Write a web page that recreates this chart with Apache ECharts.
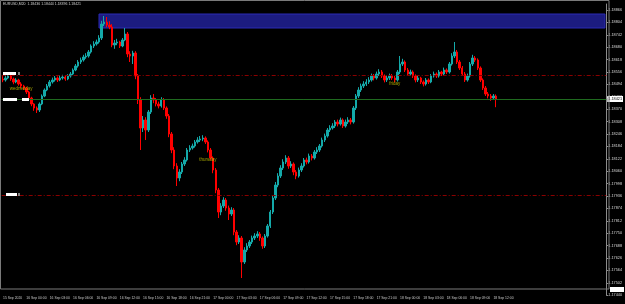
<!DOCTYPE html>
<html><head><meta charset="utf-8">
<script src="https://cdn.jsdelivr.net/npm/echarts@6/dist/echarts.min.js"></script>
<style>html,body{margin:0;padding:0;background:#000;}#c{width:625px;height:304px;}</style>
</head><body><div id="c"></div>
<script>
// Prices are in points (price x 100000), EURUSD M20
const tickLabels = ["15 Sep 2020","16 Sep 00:00","16 Sep 03:00","16 Sep 06:00","16 Sep 09:00","16 Sep 12:00","16 Sep 15:00","16 Sep 18:00","16 Sep 21:00","17 Sep 00:00","17 Sep 03:00","17 Sep 06:00","17 Sep 09:00","17 Sep 12:00","17 Sep 15:00","17 Sep 18:00","17 Sep 21:00","18 Sep 00:00","18 Sep 03:00","18 Sep 06:00","18 Sep 09:00","18 Sep 12:00"];
const barsPerLabel = 9;
const totalBars = 233;

const opens = [118520,118516,118526,118536,118521,118506,118516,118496,118486,118476,
118456,118426,118396,118376,118366,118396,118436,118466,118486,118506,
118516,118526,118516,118526,118531,118521,118536,118546,118566,118586,
118606,118616,118631,118636,118656,118686,118696,118706,118726,118796,
118806,118791,118781,118691,118701,118706,118686,118716,118746,118646,
118636,118651,118536,118416,118276,118316,118266,118356,118426,118416,
118396,118386,118416,118376,118336,118246,118166,118086,118026,118056,
118096,118116,118166,118176,118186,118206,118216,118221,118226,118206,
118166,118126,118066,117966,117856,117886,117916,117876,117846,117866,
117756,117706,117726,117606,117666,117686,117706,117726,117736,117746,
117726,117686,117736,117786,117856,117926,117991,118036,118076,118106,
118126,118086,118096,118056,118036,118066,118086,118116,118106,118136,
118126,118156,118166,118186,118216,118236,118266,118276,118286,118306,
118296,118316,118286,118306,118316,118306,118376,118436,118466,118486,
118496,118506,118516,118536,118526,118546,118556,118536,118516,118526,
118536,118526,118516,118556,118596,118606,118566,118546,118556,118536,
118516,118526,118506,118496,118516,118506,118536,118546,118536,118556,
118546,118566,118556,118596,118636,118656,118606,118576,118546,118516,
118536,118596,118626,118616,118576,118516,118476,118446,118436,118426,
118436];
const closes = [118516,118526,118536,118521,118506,118516,118496,118486,118476,118456,
118426,118396,118376,118366,118396,118436,118466,118486,118506,118516,
118526,118516,118526,118531,118521,118536,118546,118566,118586,118606,
118616,118631,118636,118656,118686,118696,118706,118726,118796,118806,
118791,118781,118691,118701,118706,118686,118716,118746,118646,118636,
118651,118536,118416,118276,118316,118266,118356,118426,118416,118396,
118386,118416,118376,118336,118246,118166,118086,118026,118056,118096,
118116,118166,118176,118186,118206,118216,118221,118226,118206,118166,
118126,118066,117966,117856,117886,117916,117876,117846,117866,117756,
117706,117726,117606,117666,117686,117706,117726,117736,117746,117726,
117686,117736,117786,117856,117926,117991,118036,118076,118106,118126,
118086,118096,118056,118036,118066,118086,118116,118106,118136,118126,
118156,118166,118186,118216,118236,118266,118276,118286,118306,118296,
118316,118286,118306,118316,118306,118376,118436,118466,118486,118496,
118506,118516,118536,118526,118546,118556,118536,118516,118526,118536,
118526,118516,118556,118596,118606,118566,118546,118556,118536,118516,
118526,118506,118496,118516,118506,118536,118546,118536,118556,118546,
118566,118556,118596,118636,118656,118606,118576,118546,118516,118536,
118596,118626,118616,118576,118516,118476,118446,118436,118426,118436,
118421];
const highs = [118535,118540,118548,118545,118528,118525,118522,118505,118492,118482,
118462,118432,118400,118384,118404,118444,118474,118496,118516,118528,
118536,118534,118540,118542,118538,118545,118556,118574,118596,118616,
118628,118642,118650,118666,118694,118710,118718,118740,118812,118836,
118831,118810,118795,118716,118722,118712,118726,118776,118756,118660,
118662,118660,118546,118430,118336,118330,118366,118440,118446,118426,
118408,118430,118426,118384,118346,118256,118180,118100,118070,118106,
118130,118176,118190,118198,118216,118230,118236,118240,118234,118214,
118176,118134,118076,117976,117900,117930,117926,117888,117880,117876,
117766,117740,117736,117680,117700,117716,117738,117750,117760,117756,
117734,117746,117796,117866,117936,118006,118050,118090,118120,118140,
118136,118110,118104,118066,118078,118100,118126,118128,118148,118146,
118166,118180,118196,118228,118248,118276,118290,118300,118316,118318,
118328,118324,118318,118330,118326,118386,118446,118480,118498,118510,
118520,118530,118548,118546,118558,118570,118566,118544,118538,118548,
118546,118536,118566,118636,118622,118614,118576,118568,118564,118544,
118536,118532,118514,118526,118524,118546,118558,118554,118566,118562,
118578,118574,118606,118650,118706,118666,118616,118586,118556,118548,
118606,118642,118636,118624,118584,118524,118486,118456,118446,118446,
118444];
const lows = [118505,118508,118520,118512,118495,118500,118488,118475,118466,118446,
118415,118385,118362,118351,118356,118390,118430,118460,118478,118498,
118508,118506,118510,118518,118512,118515,118528,118540,118560,118578,
118596,118608,118622,118628,118648,118676,118688,118698,118716,118786,
118780,118770,118680,118672,118690,118676,118680,118710,118630,118606,
118596,118520,118396,118166,118256,118216,118256,118346,118400,118384,
118374,118378,118366,118322,118230,118150,118070,117986,118010,118046,
118086,118108,118156,118168,118178,118198,118206,118210,118196,118154,
118114,118050,117950,117826,117840,117876,117862,117816,117836,117740,
117690,117696,117526,117596,117656,117676,117696,117716,117726,117712,
117672,117676,117728,117776,117846,117916,117980,118026,118066,118096,
118072,118076,118040,118020,118028,118056,118078,118094,118098,118114,
118118,118146,118156,118178,118206,118228,118256,118268,118276,118284,
118288,118276,118278,118296,118294,118298,118366,118426,118456,118476,
118486,118496,118508,118514,118518,118536,118526,118504,118506,118516,
118516,118504,118508,118546,118586,118556,118536,118538,118526,118504,
118506,118496,118484,118488,118496,118500,118528,118526,118528,118536,
118538,118546,118548,118588,118626,118596,118566,118536,118506,118508,
118528,118586,118606,118566,118506,118466,118436,118424,118412,118418,
118380];

const zoneTop = 118846, zoneBottom = 118776, zoneStartBar = 37;
const dashLevels = [118541, 117941];
const lastPrice = 118421;
const dayNotes = [["wednesday", 7, 118471], ["thursday", 79, 118116], ["friday", 151, 118496]];
const axisMin = 117440, axisMax = 118896, axisStep = 62;

const fmt = v => (v / 100000).toFixed(5);
const chart = echarts.init(document.getElementById('c'), null, {renderer: 'canvas'});
const cats = Array.from({length: totalBars}, (_, i) => String(i));
const candleData = opens.map((o, i) => [o, closes[i], lows[i], highs[i]]);

chart.setOption({
  backgroundColor: '#000',
  animation: false,
  grid: {left: 1, right: 16, top: 4, bottom: 8.8},
  xAxis: {
    type: 'category', data: cats, boundaryGap: true,
    axisLine: {show: false}, axisTick: {show: false}, splitLine: {show: false},
    axisLabel: {
      interval: (idx) => idx % barsPerLabel === 0 && idx / barsPerLabel < tickLabels.length,
      formatter: (v, idx) => tickLabels[Math.round(idx / barsPerLabel)] || '',
      align: 'left', color: '#c8c8c8', fontSize: 3.4, margin: 1.8, fontFamily: 'Liberation Sans'
    }
  },
  yAxis: {
    type: 'value', position: 'right', min: axisMin, max: axisMax, interval: axisStep, scale: true,
    axisLine: {show: true, lineStyle: {color: '#8c8c8c', width: 1}},
    axisTick: {show: true, length: 2, lineStyle: {color: '#8c8c8c'}},
    splitLine: {show: false},
    axisLabel: {formatter: fmt, color: '#d8d8d8', fontSize: 3.8, margin: 2, showMaxLabel: false, fontFamily: 'Liberation Sans'}
  },
  series: [{
    type: 'candlestick',
    data: candleData,
    barWidth: '75%',
    itemStyle: {color: '#14a9a9', color0: '#ff0000', borderColor: '#14a9a9', borderColor0: '#ff0000', borderWidth: 1},
    markArea: {
      silent: true,
      itemStyle: {color: '#1c1c80', borderColor: '#2a2ab4', borderWidth: 1},
      data: [[{xAxis: String(zoneStartBar), yAxis: zoneTop}, {xAxis: String(totalBars - 1), yAxis: zoneBottom}]]
    },
    markLine: {
      silent: true, symbol: ['none', 'none'],
      data: [
        {yAxis: dashLevels[0], lineStyle: {color: '#8b0000', width: 1, type: [4, 2, 1, 2]}, label: {show: false}},
        {yAxis: dashLevels[1], lineStyle: {color: '#8b0000', width: 1, type: [4, 2, 1, 2]}, label: {show: false}},
        {yAxis: lastPrice, lineStyle: {color: '#1f6a1f', width: 1, type: 'solid'},
         label: {show: true, position: 'end', formatter: fmt(lastPrice), backgroundColor: '#fff', color: '#000', fontSize: 3.8, padding: [1, 1], distance: 1, fontFamily: 'Liberation Sans'}}
      ]
    },
    z: 3
  }, {
    type: 'scatter',
    data: dayNotes.map(d => [String(d[1]), d[2], d[0]]),
    symbolSize: 0,
    label: {show: true, position: 'inside', formatter: p => p.data[2], color: '#c8c800', fontSize: 4.5, fontFamily: 'Liberation Sans'},
    z: 5
  }],
  graphic: [
    {type: 'rect', shape: {x: 0.5, y: 0.5, width: 608.5, height: 288.5}, style: {fill: 'none', stroke: '#7a7a7a', lineWidth: 1}, z: 100},
    {type: 'text', left: 3, top: 2, style: {text: 'EURUSD,M20  1.18436 1.18444 1.18396 1.18421', fill: '#d0d0d0', font: '3.5px Liberation Sans'}, z: 100},
    {type: 'rect', shape: {x: 3, y: 72, width: 13, height: 3}, style: {fill: '#ffffff'}, z: 100},
    {type: 'rect', shape: {x: 18, y: 72, width: 2, height: 3}, style: {fill: '#808080'}, z: 100},
    {type: 'rect', shape: {x: 3, y: 98, width: 14, height: 3}, style: {fill: '#ffffff'}, z: 100},
    {type: 'rect', shape: {x: 22, y: 98, width: 7, height: 3}, style: {fill: '#ffffff'}, z: 100},
    {type: 'rect', shape: {x: 6, y: 193, width: 11, height: 3}, style: {fill: '#ffffff'}, z: 100},
    {type: 'rect', shape: {x: 18, y: 193, width: 2, height: 3}, style: {fill: '#808080'}, z: 100},
    {type: 'rect', shape: {x: 610, y: 287, width: 14, height: 5}, style: {fill: '#ffffff'}, z: 100}
  ]
});
</script></body></html>
